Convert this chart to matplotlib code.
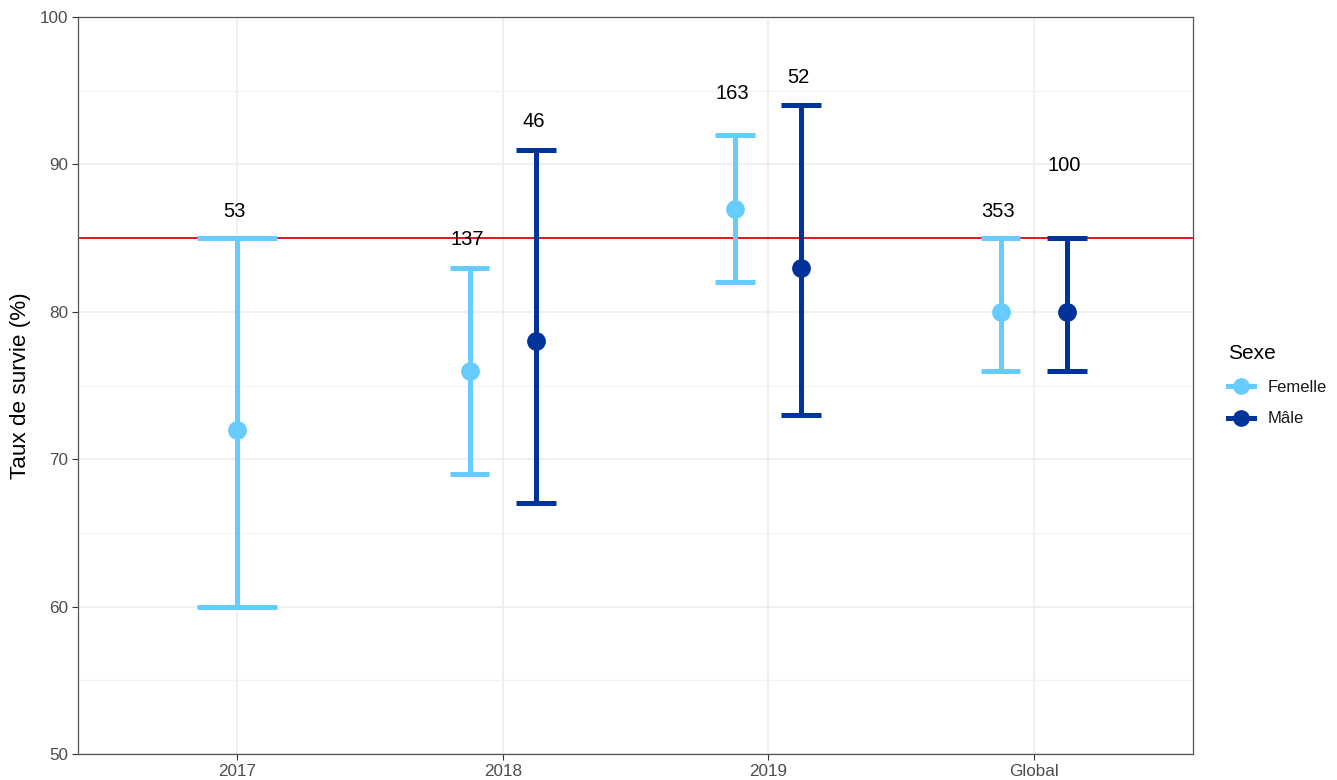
import matplotlib.pyplot as plt
from matplotlib.lines import Line2D

plt.rcParams['font.family'] = ['Liberation Sans', 'DejaVu Sans']

# données
categories = ["2017", "2018", "2019", "Global"]
sexes = ["Femelle", "Mâle"]

femelle_cat = [0, 1, 2, 3]
femelle_val = [72, 76, 87, 80]
femelle_low = [60, 69, 82, 76]
femelle_high = [85, 83, 92, 85]
femelle_n = [53, 137, 163, 353]
femelle_lab_y = [86.8, 84.9, 94.8, 86.8]

male_cat = [1, 2, 3]
male_val = [78, 83, 80]
male_low = [67, 73, 76]
male_high = [91, 94, 85]
male_n = [46, 52, 100]
male_lab_y = [92.9, 95.9, 89.9]

seuil = 85

col_f = "#66CCFF"
col_m = "#003399"

fig = plt.figure(figsize=(13.37, 7.8), dpi=100)
ax = fig.add_axes([0.0583, 0.0333, 0.834, 0.9449])

dodge = 0.125


def draw_group(cats, vals, lows, highs, ns, lab_y, color, offset, capw):
    for i, c in enumerate(cats):
        x = c + (offset[i] if isinstance(offset, list) else offset)
        w = capw[i] if isinstance(capw, list) else capw
        ax.plot([x, x], [lows[i], highs[i]], color=color, lw=3.6,
                solid_capstyle="butt", zorder=3)
        for yv in (lows[i], highs[i]):
            ax.plot([x - w / 2, x + w / 2], [yv, yv], color=color, lw=3.6,
                    solid_capstyle="butt", zorder=3)
        ax.plot(x, vals[i], "o", color=color, ms=12.5, zorder=4)
        ax.text(x - 0.01, lab_y[i], str(ns[i]), ha="center", va="center",
                fontsize=14.5, color="black", zorder=5)


# 2017 : une seule modalité, centrée et barre plus large
f_off = [0 if c == 0 else -dodge for c in femelle_cat]
f_cap = [0.3 if c == 0 else 0.15 for c in femelle_cat]
draw_group(femelle_cat, femelle_val, femelle_low, femelle_high, femelle_n,
           femelle_lab_y, col_f, f_off, f_cap)
draw_group(male_cat, male_val, male_low, male_high, male_n,
           male_lab_y, col_m, dodge, 0.15)

ax.axhline(seuil, color="#E3161C", lw=1.4, zorder=2)

ax.set_xlim(-0.6, 3.6)
ax.set_ylim(50, 100)
ax.set_xticks(range(len(categories)))
ax.set_xticklabels(categories)
ax.set_yticks(range(50, 101, 10))
ax.set_yticks(range(55, 100, 10), minor=True)
ax.grid(which="major", color="#EBEBEB", lw=1.1, zorder=0)
ax.grid(which="minor", axis="y", color="#F2F2F2", lw=0.8, zorder=0)
ax.tick_params(which="minor", length=0)
ax.tick_params(which="major", colors="#333333", labelcolor="#4D4D4D",
               labelsize=12.3, length=4, width=0.8, pad=3)
for s in ax.spines.values():
    s.set_color("#555555")
    s.set_linewidth(0.9)
ax.set_axisbelow(True)
ax.set_ylabel("Taux de survie (%)", fontsize=16.2, labelpad=6)

handles = [Line2D([0], [0], color=col_f, lw=3.6, marker="o", ms=11),
           Line2D([0], [0], color=col_m, lw=3.6, marker="o", ms=11)]
leg = fig.legend(handles, sexes, title="Sexe", loc="upper left",
                 bbox_to_anchor=(0.907, 0.578), frameon=False,
                 fontsize=12, title_fontsize=15, handlelength=1.6,
                 labelspacing=1.0, alignment="left")
for t in leg.get_texts():
    t.set_color("#1A1A1A")

fig.savefig("out.png", dpi=100)
